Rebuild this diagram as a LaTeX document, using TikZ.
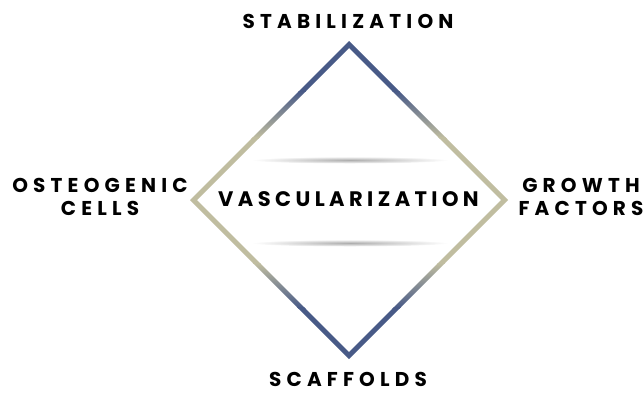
\documentclass[tikz,border=0pt]{standalone}
\usepackage{fontspec}
\newfontfamily\lblfont{Poppins}[LetterSpace=26]
\newfontfamily\vascfont{Poppins}[LetterSpace=21]
\definecolor{dblue}{RGB}{72,90,135}
\definecolor{beige}{RGB}{192,189,160}
\begin{document}
\begin{tikzpicture}[x=1pt,y=-1pt,
  lbl/.style={font=\lblfont\bfseries\fontsize{20}{22.5}\selectfont, text=black, align=center, inner sep=0pt},
  shadowband/.style={inner color=black!32, outer color=white}]
\fill[white] (0,0) rectangle (644,394);
\useasboundingbox (0,0) rectangle (644,394);
% diamond ring with vertical colour gradient
\coordinate (top) at (349,44.5);
\coordinate (bot) at (349,355.5);
\coordinate (lft) at (193.5,200);
\coordinate (rgt) at (504.5,200);
\begin{scope}
  \clip (349,41) -- (508,200) -- (349,359) -- (190,200) -- cycle
        (349,48) -- (197,200) -- (349,352) -- (501,200) -- cycle;
  \fill[dblue] (180,30) rectangle (520,92);
  \shade[top color=dblue, bottom color=beige] (180,91) rectangle (520,138);
  \fill[beige] (180,137) rectangle (520,264);
  \shade[top color=beige, bottom color=dblue] (180,263) rectangle (520,308);
  \fill[dblue] (180,307) rectangle (520,370);
\end{scope}
% shadows of the central band
\shade[shadowband] (350,160) ellipse (98 and 3.5);
\shade[shadowband] (350,243) ellipse (98 and 3.5);
% labels
\node[lbl, font=\vascfont\bfseries\fontsize{21}{24}\selectfont] (vasc) at (348.5,199.5) {VASCULARIZATION};
\node[lbl] (stab) at (348,21.5) {STABILIZATION};
\node[lbl] (scaf) at (348,379.5) {SCAFFOLDS};
\node[lbl] (oste) at (100,197) {OSTEOGENIC\\CELLS};
\node[lbl] (grow) at (581,197) {GROWTH\\FACTORS};
\end{tikzpicture}
\end{document}
